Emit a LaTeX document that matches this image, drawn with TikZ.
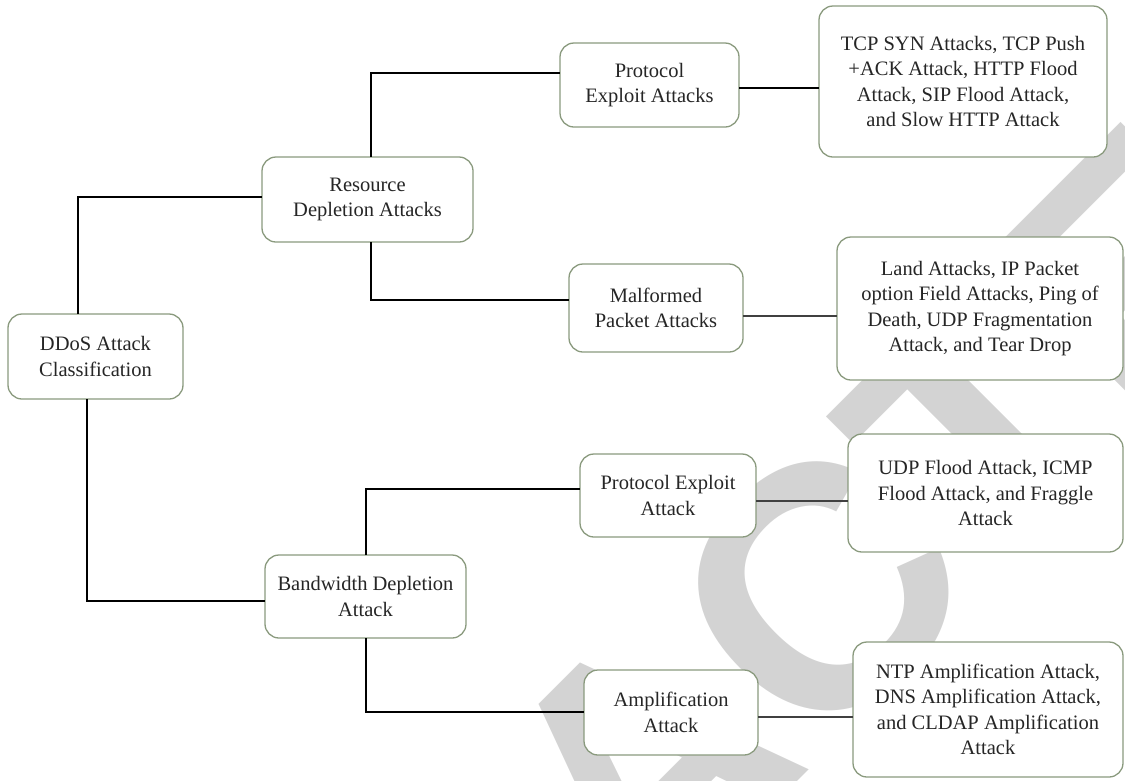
\documentclass[tikz,border=0pt]{standalone}
\usepackage{fontspec}
\setmainfont{Liberation Serif}
\newfontfamily\wmfont{Liberation Sans}
\definecolor{boxc}{HTML}{8A9A7E}
\definecolor{wmgray}{RGB}{211,211,211}
\definecolor{linegray}{HTML}{404040}
\tikzset{
  box/.style={draw=boxc, line width=1.3pt, rounded corners=14pt, fill=white,
    align=center, inner sep=0pt, outer sep=0pt,
    font=\fontsize{20.5}{25.5}\selectfont, text=black!85},
  conn/.style={draw=black, line width=1.3pt},
  connr/.style={draw=linegray, line width=1.9pt},
}
\begin{document}
\begin{tikzpicture}[x=1pt,y=-1pt]
\useasboundingbox (0,0) rectangle (1125,780);
% watermark
\begin{scope}
  \clip (0,0) rectangle (1125,780);
  \node[anchor=base west, rotate=45, inner sep=0pt, outer sep=0pt, text=wmgray,
        font=\wmfont\bfseries\fontsize{345}{345}\selectfont] (wm) at (-24.5,1603.5) {RETRACTED};
\end{scope}
% nodes
\node[box, minimum width=175pt, minimum height=85pt] (ddos) at (95.5,356.5) {DDoS Attack\\Classification};
\node[box, minimum width=211pt, minimum height=85pt] (res) at (367.5,199.5) {Resource\\Depletion Attacks};
\node[box, minimum width=201pt, minimum height=83pt] (band) at (365.5,596.5) {Bandwidth Depletion\\Attack};
\node[box, minimum width=179pt, minimum height=84pt] (pea) at (649.5,85) {Protocol\\Exploit Attacks};
\node[box, minimum width=174pt, minimum height=88pt] (mal) at (656,308) {Malformed\\Packet Attacks};
\node[box, minimum width=176pt, minimum height=83pt] (pe2) at (668,495.5) {Protocol Exploit\\Attack};
\node[box, minimum width=174pt, minimum height=85pt] (amp) at (671,712.5) {Amplification\\Attack};
\node[box, minimum width=288pt, minimum height=151pt] (tcp) at (963,81.5) {TCP SYN Attacks, TCP Push\\+ACK Attack, HTTP Flood\\Attack, SIP Flood Attack,\\and Slow HTTP Attack};
\node[box, minimum width=286pt, minimum height=143pt] (land) at (980,308.5) {Land Attacks, IP Packet\\option Field Attacks, Ping of\\Death, UDP Fragmentation\\Attack, and Tear Drop};
\node[box, minimum width=275pt, minimum height=118pt] (udp) at (985.5,493) {UDP Flood Attack, ICMP\\Flood Attack, and Fraggle\\Attack};
\node[box, minimum width=270pt, minimum height=135pt] (ntp) at (988,709.5) {NTP Amplification Attack,\\DNS Amplification Attack,\\and CLDAP Amplification\\Attack};
% connectors
\draw[conn] (ddos.north -| 78,0) |- (res.west |- 0,197);
\draw[conn] (ddos.south -| 87,0) |- (band.west |- 0,601);
\draw[conn] (res.north -| 371,0) |- (pea.west |- 0,73);
\draw[conn] (res.south -| 371,0) |- (mal.west |- 0,300);
\draw[conn] (band.north -| 366,0) |- (pe2.west |- 0,489);
\draw[conn] (band.south -| 366,0) |- (amp.west |- 0,712);
\draw[conn] (pea.east |- 0,88) -- (tcp.west |- 0,88);
\draw[connr] (mal.east |- 0,316) -- (land.west |- 0,316);
\draw[connr] (pe2.east |- 0,501) -- (udp.west |- 0,501);
\draw[connr] (amp.east |- 0,717) -- (ntp.west |- 0,717);
\end{tikzpicture}
\end{document}
